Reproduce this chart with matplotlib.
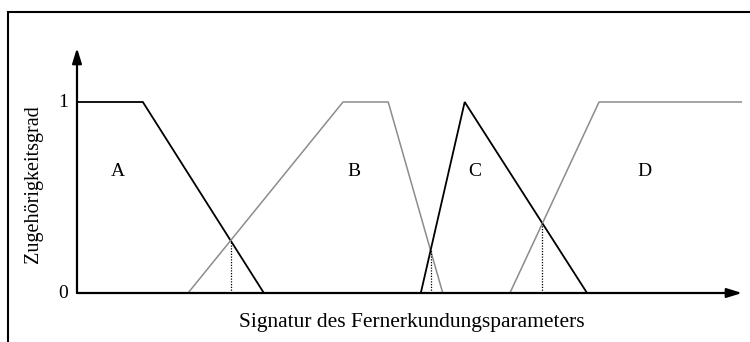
import numpy as np
import matplotlib
matplotlib.use("Agg")
import matplotlib.pyplot as plt
from matplotlib.patches import Rectangle

plt.rcParams["font.family"] = ["Liberation Serif", "DejaVu Serif"]

# membership functions: breakpoints on the signature axis (0..100) and degree
a_x = [0.0, 9.9, 28.1]
a_y = [1.0, 1.0, 0.0]
b_x = [16.7, 40.0, 46.8, 55.0]
b_y = [0.0, 1.0, 1.0, 0.0]
c_x = [51.7, 58.3, 76.7]
c_y = [0.0, 1.0, 0.0]
d_x = [65.1, 78.5, 100.2]
d_y = [0.0, 1.0, 1.0]

class_labels = ["A", "B", "C", "D"]
label_x = [6.2, 41.7, 59.8, 85.4]
label_y = 0.635


def crossing(x1, y1, x2, y2):
    """Where two piecewise-linear membership curves meet (on a fine grid)."""
    lo, hi = max(x1[0], x2[0]), min(x1[-1], x2[-1])
    xs = np.linspace(lo, hi, 20001)
    f = np.interp(xs, x1, y1)
    g = np.interp(xs, x2, y2)
    inside = (f > 0) & (g > 0)
    diff = np.where(inside, np.abs(f - g), np.inf)
    i = np.argmin(diff)
    return xs[i], f[i]


W, H = 750, 342
fig = plt.figure(figsize=(W / 100, H / 100), dpi=100)
ymax = (293 - 48) / 191
ax = fig.add_axes([77 / W, (H - 293) / H, 665 / W, 245 / H])
ax.set_xlim(0, 100)
ax.set_ylim(0, ymax)
ax.axis("off")

black = "black"
grey = "#8c8c8c"
ax.plot(a_x, a_y, color=black, lw=1.3, solid_joinstyle="miter")
ax.plot(b_x, b_y, color=grey, lw=1.1)
ax.plot(c_x, c_y, color=black, lw=1.3, solid_joinstyle="miter")
ax.plot(d_x, d_y, color=grey, lw=1.1)

for (x1, y1), (x2, y2) in [((a_x, a_y), (b_x, b_y)),
                           ((b_x, b_y), (c_x, c_y)),
                           ((c_x, c_y), (d_x, d_y))]:
    xc, yc = crossing(x1, y1, x2, y2)
    ax.plot([xc, xc], [0, yc], color=black, lw=0.9, ls=(0, (1, 1.2)))

for lab, lx in zip(class_labels, label_x):
    ax.text(lx, label_y, lab, fontsize=14, ha="center", va="center")

# axes with arrow heads
arrow = dict(arrowstyle="-|>,head_length=0.9,head_width=0.28", color=black,
             lw=1.6, shrinkA=0, shrinkB=0)
ax.annotate("", xy=(0, ymax), xytext=(0, 0), arrowprops=arrow, annotation_clip=False)
ax.annotate("", xy=(100, 0), xytext=(0, 0), arrowprops=arrow, annotation_clip=False)

ax.text(-1.3, 0.995, "1", fontsize=14, ha="right", va="center")
ax.text(-1.3, 0, "0", fontsize=14, ha="right", va="center")
ax.text(-6.6, 0.57, "Zugehörigkeitsgrad", fontsize=14.5, rotation=90,
        ha="center", va="center")
ax.text(50.3, -0.152, "Signatur des Fernerkundungsparameters", fontsize=15.5,
        ha="center", va="center")

# frame around the figure, open to the right and bottom
fig.patches.append(Rectangle((8 / W, -0.1), 1.1, (H - 12) / H + 0.1,
                             transform=fig.transFigure, fill=False,
                             edgecolor=black, lw=1.5))

fig.savefig("out.png", dpi=100)
